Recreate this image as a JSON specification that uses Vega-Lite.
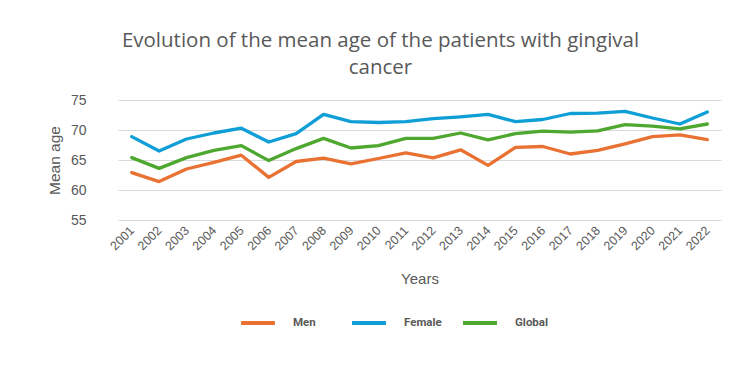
{
  "$schema": "https://vega.github.io/schema/vega-lite/v6.json",
  "width": 603,
  "height": 120,
  "autosize": {"type": "none"},
  "padding": {"left": 118, "top": 100, "right": 31, "bottom": 156},
  "background": "white",
  "title": {
    "text": ["Evolution of the mean age of the patients with gingival", "cancer"],
    "anchor": "middle",
    "dx": -39,
    "offset": 15,
    "font": "Open Sans",
    "fontSize": 20.5,
    "fontWeight": "normal",
    "color": "#595959",
    "lineHeight": 27
  },
  "data": {
    "values": [
      {"year": "2001", "series": "Men", "age": 62.9},
      {"year": "2002", "series": "Men", "age": 61.4},
      {"year": "2003", "series": "Men", "age": 63.5},
      {"year": "2004", "series": "Men", "age": 64.6},
      {"year": "2005", "series": "Men", "age": 65.8},
      {"year": "2006", "series": "Men", "age": 62.1},
      {"year": "2007", "series": "Men", "age": 64.75},
      {"year": "2008", "series": "Men", "age": 65.3},
      {"year": "2009", "series": "Men", "age": 64.35},
      {"year": "2010", "series": "Men", "age": 65.25},
      {"year": "2011", "series": "Men", "age": 66.2},
      {"year": "2012", "series": "Men", "age": 65.35},
      {"year": "2013", "series": "Men", "age": 66.7},
      {"year": "2014", "series": "Men", "age": 64.1},
      {"year": "2015", "series": "Men", "age": 67.1},
      {"year": "2016", "series": "Men", "age": 67.25},
      {"year": "2017", "series": "Men", "age": 66.0},
      {"year": "2018", "series": "Men", "age": 66.6},
      {"year": "2019", "series": "Men", "age": 67.7},
      {"year": "2020", "series": "Men", "age": 68.9},
      {"year": "2021", "series": "Men", "age": 69.2},
      {"year": "2022", "series": "Men", "age": 68.4},
      {"year": "2001", "series": "Female", "age": 68.9},
      {"year": "2002", "series": "Female", "age": 66.5},
      {"year": "2003", "series": "Female", "age": 68.5},
      {"year": "2004", "series": "Female", "age": 69.5},
      {"year": "2005", "series": "Female", "age": 70.3},
      {"year": "2006", "series": "Female", "age": 68.0},
      {"year": "2007", "series": "Female", "age": 69.4},
      {"year": "2008", "series": "Female", "age": 72.6},
      {"year": "2009", "series": "Female", "age": 71.4},
      {"year": "2010", "series": "Female", "age": 71.25},
      {"year": "2011", "series": "Female", "age": 71.4},
      {"year": "2012", "series": "Female", "age": 71.9},
      {"year": "2013", "series": "Female", "age": 72.2},
      {"year": "2014", "series": "Female", "age": 72.6},
      {"year": "2015", "series": "Female", "age": 71.4},
      {"year": "2016", "series": "Female", "age": 71.75},
      {"year": "2017", "series": "Female", "age": 72.75},
      {"year": "2018", "series": "Female", "age": 72.8},
      {"year": "2019", "series": "Female", "age": 73.1},
      {"year": "2020", "series": "Female", "age": 72.0},
      {"year": "2021", "series": "Female", "age": 71.0},
      {"year": "2022", "series": "Female", "age": 73.0},
      {"year": "2001", "series": "Global", "age": 65.4},
      {"year": "2002", "series": "Global", "age": 63.6},
      {"year": "2003", "series": "Global", "age": 65.4},
      {"year": "2004", "series": "Global", "age": 66.6},
      {"year": "2005", "series": "Global", "age": 67.4},
      {"year": "2006", "series": "Global", "age": 64.9},
      {"year": "2007", "series": "Global", "age": 66.9},
      {"year": "2008", "series": "Global", "age": 68.6},
      {"year": "2009", "series": "Global", "age": 67.0},
      {"year": "2010", "series": "Global", "age": 67.4},
      {"year": "2011", "series": "Global", "age": 68.6},
      {"year": "2012", "series": "Global", "age": 68.6},
      {"year": "2013", "series": "Global", "age": 69.5},
      {"year": "2014", "series": "Global", "age": 68.35},
      {"year": "2015", "series": "Global", "age": 69.4},
      {"year": "2016", "series": "Global", "age": 69.8},
      {"year": "2017", "series": "Global", "age": 69.65},
      {"year": "2018", "series": "Global", "age": 69.85},
      {"year": "2019", "series": "Global", "age": 70.9},
      {"year": "2020", "series": "Global", "age": 70.65},
      {"year": "2021", "series": "Global", "age": 70.2},
      {"year": "2022", "series": "Global", "age": 71.0}
    ]
  },
  "mark": {"type": "line", "strokeWidth": 3.3, "strokeJoin": "round", "strokeCap": "round"},
  "encoding": {
    "x": {
      "field": "year",
      "type": "ordinal",
      "scale": {"type": "point", "padding": 0.5},
      "axis": {
        "title": "Years",
        "labelAngle": -45,
        "labelAlign": "right",
        "labelBaseline": "middle",
        "labelPadding": 8,
        "labelFont": "Liberation Sans",
        "labelFontSize": 12.5,
        "labelColor": "#595959",
        "ticks": false,
        "domain": false,
        "titleFont": "Liberation Sans",
        "titleFontSize": 15,
        "titleFontWeight": "normal",
        "titleColor": "#595959",
        "titlePadding": 19
      }
    },
    "y": {
      "field": "age",
      "type": "quantitative",
      "scale": {"domain": [55, 75], "nice": false, "zero": false},
      "axis": {
        "title": "Mean age",
        "values": [55, 60, 65, 70, 75],
        "grid": true,
        "gridColor": "#d9d9d9",
        "gridWidth": 1,
        "domain": false,
        "ticks": false,
        "labelPadding": 32,
        "labelFont": "Liberation Sans",
        "labelFontSize": 14,
        "labelColor": "#595959",
        "titleFont": "Liberation Sans",
        "titleFontSize": 15.5,
        "titleFontWeight": "normal",
        "titleColor": "#595959",
        "titlePadding": 8
      }
    },
    "color": {
      "field": "series",
      "type": "nominal",
      "scale": {
        "domain": ["Men", "Female", "Global"],
        "range": ["#E97132", "#0F9ED5", "#4EA72E"]
      },
      "legend": {
        "title": null,
        "orient": "none",
        "direction": "horizontal",
        "legendX": 121,
        "legendY": 204,
        "gridAlign": "all",
        "columnPadding": 13,
        "symbolType": "stroke",
        "symbolSize": 1150,
        "symbolStrokeWidth": 4,
        "labelOffset": 16,
        "labelFont": "Roboto",
        "labelFontSize": 11.5,
        "labelFontWeight": "bold",
        "labelColor": "#595959"
      }
    }
  },
  "config": {
    "view": {"stroke": null}
  }
}
